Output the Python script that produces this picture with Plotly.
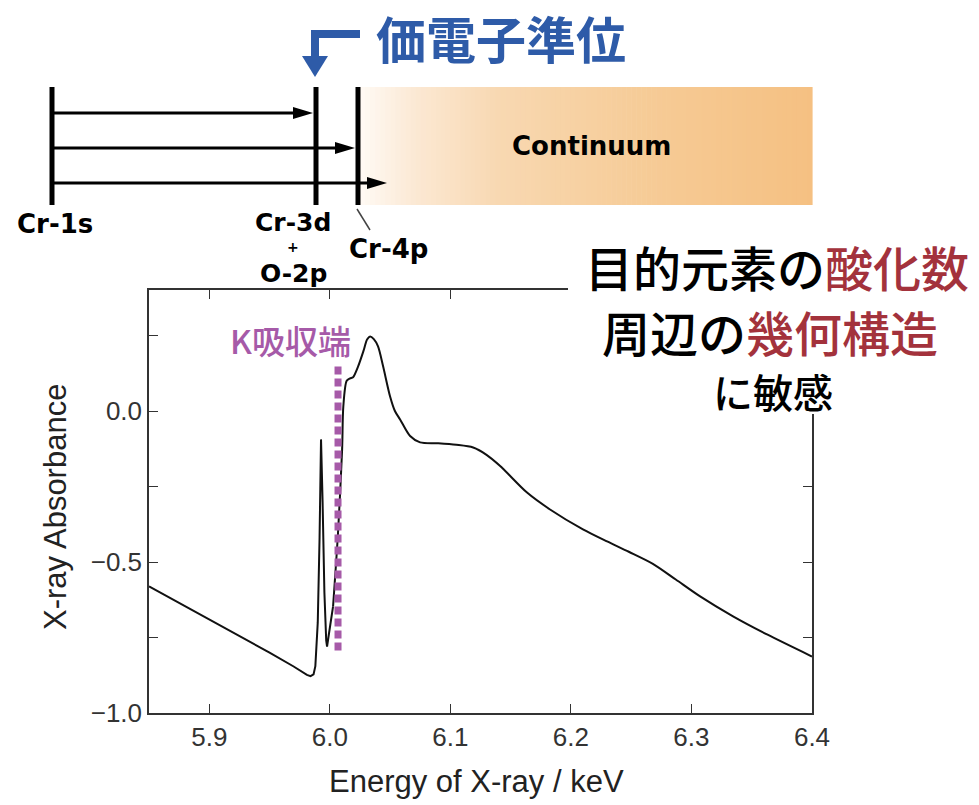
import plotly.graph_objects as go

# ---------------- data ----------------
energy_kev = [5.850, 5.900, 5.950, 5.970, 5.977, 5.981, 5.9840, 5.9865, 5.9880,
              5.9900, 5.9915, 5.9927, 5.9940, 5.9955, 5.9970, 5.9977, 5.9990,
              6.0027, 6.0068, 6.0102, 6.0112, 6.0140, 6.0168, 6.0193, 6.0234,
              6.0280, 6.0309, 6.0334, 6.0365, 6.0400, 6.0442, 6.0500, 6.0540,
              6.0583, 6.0666, 6.0749, 6.0900, 6.1050, 6.1189, 6.1300, 6.1413,
              6.1636, 6.1827, 6.2100, 6.2300, 6.2480, 6.2680, 6.2870, 6.3072,
              6.3345, 6.3627, 6.4000]
absorbance = [-0.581, -0.690, -0.800, -0.846, -0.864, -0.874, -0.878, -0.872, -0.845,
              -0.700, -0.420, -0.094, -0.300, -0.600, -0.760, -0.780, -0.745,
              -0.647, -0.403, -0.128, 0.015, 0.100, 0.108, 0.112, 0.147,
              0.200, 0.237, 0.247, 0.238, 0.214, 0.148, 0.048, 0.000,
              -0.028, -0.083, -0.104, -0.107, -0.112, -0.121, -0.145, -0.182,
              -0.270, -0.326, -0.392, -0.432, -0.466, -0.506, -0.558, -0.614,
              -0.680, -0.740, -0.813]
split_index = 17  # sharp pre-edge part drawn straight, the rest smoothed

edge_energy = 6.0068
edge_span = [0.147, -0.80]
edge_label = "K吸収端"

x_ticks = [5.9, 6.0, 6.1, 6.2, 6.3, 6.4]
x_ticklabels = ["5.9", "6.0", "6.1", "6.2", "6.3", "6.4"]
y_ticks = [-1.0, -0.75, -0.5, -0.25, 0.0, 0.25]
y_ticklabels = ["\u22121.0", "", "\u22120.5", "", "0.0", ""]
x_title = "Energy of X-ray / keV"
y_title = "X-ray Absorbance"

level_labels = ["Cr-1s", "Cr-3d", "+", "O-2p", "Cr-4p"]
valence_label = "価電子準位"
continuum_label = "Continuum"
note_lines = ["目的元素の<span style='color:#a3323c'>酸化数</span>",
              "周辺の<span style='color:#a3323c'>幾何構造</span>",
              "に敏感"]

# ---------------- geometry helpers (pixel -> paper) ----------------
W, H = 979, 805
L, R, T, B = 149, 812, 290, 713


def px(x):
    return (x - L) / (R - L)


def py(y):
    return (B - y) / (B - T)


TXT = "#222222"
AX_FONT = "Liberation Sans Narrow, Liberation Sans, Arial, sans-serif"
JP_FONT = "Noto Sans CJK JP, sans-serif"
DIAG_FONT = "DejaVu Sans, Verdana, sans-serif"
BLUE = "#2e5ba8"
PURPLE = "#a65aa8"

fig = go.Figure()
fig.add_trace(go.Scatter(x=energy_kev[:split_index + 1], y=absorbance[:split_index + 1],
                         mode="lines", line=dict(color="#111111", width=2),
                         showlegend=False, hoverinfo="skip"))
fig.add_trace(go.Scatter(x=energy_kev[split_index:], y=absorbance[split_index:],
                         mode="lines", line=dict(color="#111111", width=2,
                                                 shape="spline", smoothing=0.8),
                         showlegend=False, hoverinfo="skip"))
fig.add_trace(go.Scatter(x=[edge_energy, edge_energy], y=edge_span, mode="lines",
                         line=dict(color=PURPLE, width=7, dash="8px,4px"),
                         showlegend=False, hoverinfo="skip"))

shapes = []
annotations = []

# continuum gradient (strips)
stops = [(360, (255, 250, 245)), (420, (251, 231, 209)), (500, (248, 216, 177)),
         (650, (246, 203, 150)), (812, (245, 192, 130))]


def grad(x):
    for (x0, c0), (x1, c1) in zip(stops[:-1], stops[1:]):
        if x0 <= x <= x1:
            t = (x - x0) / (x1 - x0)
            return "rgb(%d,%d,%d)" % tuple(round(a + (b - a) * t) for a, b in zip(c0, c1))
    return "rgb(%d,%d,%d)" % stops[-1][1]


n = 90
xs = [360 + (812 - 360) * i / n for i in range(n + 1)]
for a, b in zip(xs[:-1], xs[1:]):
    shapes.append(dict(type="rect", xref="paper", yref="paper",
                       x0=px(a), x1=px(b + 0.6), y0=py(205), y1=py(87),
                       fillcolor=grad((a + b) / 2), line=dict(width=0), layer="above"))

# vertical level bars
for xb in [52, 316, 358]:
    shapes.append(dict(type="line", xref="paper", yref="paper",
                       x0=px(xb), x1=px(xb), y0=py(87), y1=py(205),
                       line=dict(color="#000000", width=5), layer="above"))

# horizontal transition arrows
for yv, tip in [(113, 313), (148, 355), (183, 387)]:
    shapes.append(dict(type="line", xref="paper", yref="paper",
                       x0=px(52), x1=px(tip - 14), y0=py(yv), y1=py(yv),
                       line=dict(color="#000000", width=3), layer="above"))
    path = "M %f,%f L %f,%f L %f,%f Z" % (px(tip - 20), py(yv - 6), px(tip), py(yv),
                                          px(tip - 20), py(yv + 6))
    shapes.append(dict(type="path", xref="paper", yref="paper", path=path,
                       fillcolor="#000000", line=dict(width=0), layer="above"))

# Cr-4p pointer
shapes.append(dict(type="line", xref="paper", yref="paper",
                   x0=px(357), x1=px(370), y0=py(209), y1=py(230),
                   line=dict(color="#444444", width=1.5), layer="above"))

# blue bent arrow
path = "M %f,%f L %f,%f L %f,%f" % (px(360), py(34), px(315), py(34), px(315), py(62))
shapes.append(dict(type="path", xref="paper", yref="paper", path=path,
                   line=dict(color=BLUE, width=8), layer="above"))
path = "M %f,%f L %f,%f L %f,%f Z" % (px(302), py(56), px(328), py(56), px(315), py(77))
shapes.append(dict(type="path", xref="paper", yref="paper", path=path,
                   fillcolor=BLUE, line=dict(width=0), layer="above"))

# white box behind the note text
shapes.append(dict(type="rect", xref="paper", yref="paper",
                   x0=px(568), x1=px(979), y0=py(414), y1=py(232),
                   fillcolor="#ffffff", line=dict(width=0), layer="above"))


def ann(text, x, y, size, color=TXT, family=DIAG_FONT, weight="normal",
        xanchor="center", yanchor="middle", angle=0):
    annotations.append(dict(text=text, x=px(x), y=py(y), xref="paper", yref="paper",
                            showarrow=False, xanchor=xanchor, yanchor=yanchor,
                            textangle=angle,
                            font=dict(size=size, color=color, family=family,
                                      weight=weight)))


ann(level_labels[0], 55, 224, 26, color="#000", weight="bold")
ann(level_labels[1], 293, 222, 25, color="#000", weight="bold")
ann(level_labels[2], 293, 247, 14, color="#000", weight="bold")
ann(level_labels[3], 293, 273, 25, color="#000", weight="bold")
ann(level_labels[4], 388, 249, 26, color="#000", weight="bold")
ann(continuum_label, 591, 146, 26, color="#000", weight="bold")
ann(valence_label, 501, 37, 50, color=BLUE, family=JP_FONT, weight="bold")
ann(note_lines[0], 777, 266, 48, color="#000", family=JP_FONT, weight=500)
ann(note_lines[1], 770, 331, 48, color="#000", family=JP_FONT, weight=500)
ann(note_lines[2], 773, 391, 40, color="#000", family=JP_FONT, weight=500)
ann(edge_label, 290, 340, 33, color=PURPLE, family=JP_FONT, weight=500)
ann(x_title, 476, 781, 31, family=AX_FONT)
ann(y_title, 55, 507, 31, family=AX_FONT, angle=-90)

fig.update_layout(
    width=W, height=H, autosize=False,
    margin=dict(l=L, r=W - R, t=T, b=H - B, pad=0),
    paper_bgcolor="#ffffff", plot_bgcolor="#ffffff",
    shapes=shapes, annotations=annotations,
    xaxis=dict(range=[5.85, 6.40], tickvals=x_ticks, ticktext=x_ticklabels,
               ticks="inside", ticklen=9, tickwidth=1.3, tickcolor="#333",
               showline=True, linecolor="#333", linewidth=1.5, mirror="ticks",
               showgrid=False, zeroline=False,
               tickfont=dict(size=26, color="#333", family=AX_FONT)),
    yaxis=dict(range=[-1.0, 0.4007], tickvals=y_ticks, ticktext=y_ticklabels,
               ticks="inside", ticklen=9, tickwidth=1.3, tickcolor="#333",
               showline=True, linecolor="#333", linewidth=1.5, mirror="ticks",
               showgrid=False, zeroline=False,
               tickfont=dict(size=26, color="#333", family=AX_FONT)),
)

fig.write_html("out.html")
